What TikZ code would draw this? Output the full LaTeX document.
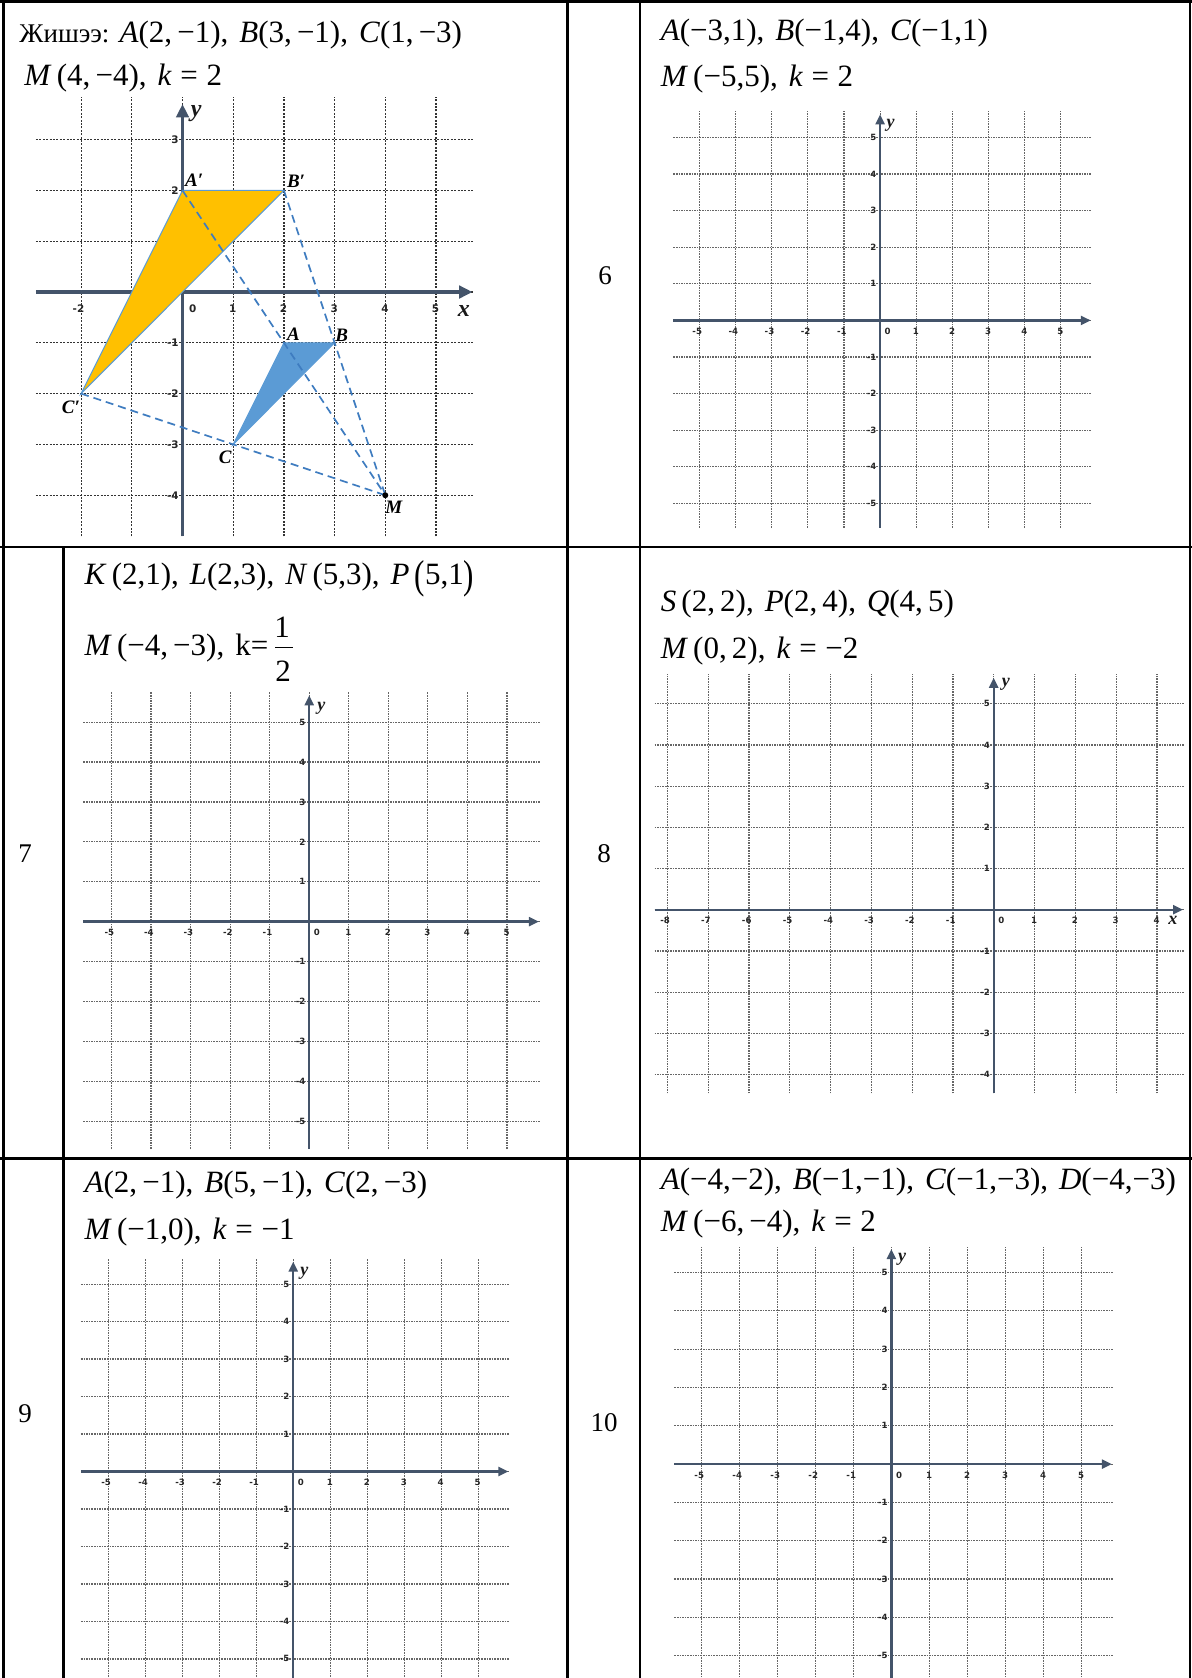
\documentclass[tikz,border=0pt]{standalone}
\usepackage{fontspec}
\usepackage{graphicx}
\setmainfont{Liberation Serif}
\newfontfamily\tickfont{DejaVu Sans}
\usetikzlibrary{arrows.meta}
\definecolor{axiscol}{HTML}{44546A}
\definecolor{goldfill}{HTML}{FFC000}
\definecolor{bluefill}{HTML}{5B9BD5}
\definecolor{dashblue}{HTML}{3E7CC0}
\newcommand{\bigpar}[1]{\raisebox{-0.13em}{\scalebox{1}[1.3]{#1}}}
\newcommand{\ptsep}{,\hspace{5.5pt}}

\tikzset{
  tabline/.style={line width=1.3pt, black},
  gridln/.style={line width=0.6pt, black!60, dash pattern=on 0.8pt off 0.5pt},
  exgridln/.style={line width=0.6pt, black!80, dash pattern=on 1pt off 0.7pt},
  axisln/.style={line width=1.15pt, axiscol, -{Triangle[length=5pt,width=4.5pt]}},
  exaxisln/.style={line width=1.7pt, axiscol, -{Triangle[length=6.7pt,width=6.2pt]}},
  ticklbl/.style={font=\tickfont\bfseries\fontsize{4.3}{4.5}\selectfont, text=black!85, inner sep=0pt},
  exticklbl/.style={font=\tickfont\bfseries\fontsize{5.2}{5.5}\selectfont, text=black!85, inner sep=0pt},
  axlbl/.style={font=\bfseries\itshape\fontsize{9}{9}\selectfont, text=black!90, inner sep=0pt},
  exaxlbl/.style={font=\bfseries\itshape\fontsize{12}{12}\selectfont, text=black!90, inner sep=0pt},
  mathtxt/.style={font=\fontsize{15.5}{16}\selectfont, anchor=base west, inner sep=0pt},
  numtxt/.style={font=\fontsize{13.5}{14}\selectfont, inner sep=0pt},
  ptlbl/.style={font=\bfseries\itshape\fontsize{9.5}{9.5}\selectfont, inner sep=0pt},
  dashln/.style={dashblue, line width=0.85pt, dash pattern=on 4pt off 2.5pt},
  fracbar/.style={line width=0.7pt, black},
}

% #1 xlo #2 xhi #3 ylo #4 yhi #5 ext left #6 ext right #7 ext bottom #8 ext top
\newcommand{\taskgrid}[8]{%
  \foreach \i in {#1,...,#2} {\draw[gridln] (\i,#7) -- (\i,#8);}
  \foreach \j in {#3,...,#4} {\draw[gridln] (#5,\j) -- (#6,\j);}
  \draw[axisln] (#5,0) -- (#6-0.02,0);
  \draw[axisln] (0,#7) -- (0,#8-0.08);
  \foreach \i in {#1,...,#2} {\ifnum\i=0\relax\else
    \node[ticklbl,anchor=east] at ([xshift=1.5pt,yshift=-5.5pt]\i,0) {\i};\fi}
  \node[ticklbl] at ([xshift=3.8pt,yshift=-5.5pt]0,0) {0};
  \foreach \j in {#3,...,#4} {\ifnum\j=0\relax\else
    \node[ticklbl,anchor=east] at ([xshift=-1.7pt]0,\j) {\j};\fi}
}

\begin{document}
\begin{tikzpicture}[x=0.5pt,y=-0.5pt]
\useasboundingbox (0,0) rectangle (1192,1678);
\clip (0,0) rectangle (1192,1678);
\fill[white] (0,0) rectangle (1192,1678);

% ---------------- Example (row 1, left) ----------------
\begin{scope}[shift={(182.5,292)}, x=25.35pt, y=25.4pt]
  \foreach \i in {-2,...,5} {\draw[exgridln] (\i,-4.81) -- (\i,3.83);}
  \foreach \j in {-4,...,3} {\draw[exgridln] (-2.89,\j) -- (5.75,\j);}
  \draw[exaxisln] (-2.89,0) -- (5.72,0);
  \draw[exaxisln] (0,-4.81) -- (0,3.70);
  \foreach \i in {-2,-1,1,2,3,4,5} {\node[exticklbl,anchor=east] at ([xshift=1.8pt,yshift=-8.2pt]\i,0) {\i};}
  \node[exticklbl] at ([xshift=5.1pt,yshift=-8.2pt]0,0) {0};
  \foreach \j in {-4,...,-1,1,2,3} {\node[exticklbl,anchor=east] at ([xshift=-1.7pt]0,\j) {\j};}
  \node[exaxlbl] (exx) at (5.55,-0.37) {x};
  \node[exaxlbl] (exy) at (0.27,3.51) {y};
  \coordinate (A) at (2,-1);
  \coordinate (B) at (3,-1);
  \coordinate (C) at (1,-3);
  \coordinate (Ap) at (0,2);
  \coordinate (Bp) at (2,2);
  \coordinate (Cp) at (-2,-2);
  \coordinate (M) at (4,-4);
  \filldraw[fill=goldfill, draw=bluefill, line width=0.5pt] (Ap) -- (Bp) -- (Cp) -- cycle;
  \filldraw[fill=bluefill, draw=bluefill, line width=0.5pt] (A) -- (B) -- (C) -- cycle;
  \draw[dashln] (Ap) -- (M);
  \draw[dashln] (Bp) -- (M);
  \draw[dashln] (Cp) -- (M);
  \fill[black] (M) circle (1.5pt);
  \node[ptlbl] (lAp) at ([shift={(0.23,0.20)}]Ap) {A′};
  \node[ptlbl] (lBp) at ([shift={(0.24,0.18)}]Bp) {B′};
  \node[ptlbl] (lCp) at ([shift={(-0.20,-0.26)}]Cp) {C′};
  \node[ptlbl] (lA) at ([shift={(0.19,0.16)}]A) {A};
  \node[ptlbl] (lB) at ([shift={(0.14,0.15)}]B) {B};
  \node[ptlbl] (lC) at ([shift={(-0.16,-0.25)}]C) {C};
  \node[ptlbl] (lM) at ([shift={(0.17,-0.23)}]M) {M};
\end{scope}

% ---------------- Task 6 ----------------
\begin{scope}[shift={(880.1,320.4)}, x=18.07pt, y=18.3pt]
  \taskgrid{-5}{5}{-5}{5}{-5.72}{5.85}{-5.67}{5.71}
  \node[axlbl] (y6) at (0.29,5.34) {y};
\end{scope}

% ---------------- Task 7 ----------------
\begin{scope}[shift={(309.2,921.6)}, x=19.77pt, y=19.95pt]
  \taskgrid{-5}{5}{-5}{5}{-5.71}{5.83}{-5.70}{5.75}
  \node[axlbl] (y7) at (0.31,5.35) {y};
\end{scope}

% ---------------- Task 8 ----------------
\begin{scope}[shift={(993.7,909.7)}, x=20.4pt, y=20.6pt]
  \taskgrid{-8}{4}{-4}{5}{-8.31}{4.66}{-4.46}{5.71}
  \node[axlbl] (x8) at (4.39,-0.26) {x};
  \node[axlbl] (y8) at (0.30,5.47) {y};
\end{scope}

% ---------------- Task 9 ----------------
\begin{scope}[shift={(293.2,1471.5)}, x=18.49pt, y=18.74pt]
  \taskgrid{-5}{5}{-5}{5}{-5.74}{5.84}{-5.9}{5.68}
  \node[axlbl] (y9) at (0.30,5.30) {y};
\end{scope}

% ---------------- Task 10 ----------------
\begin{scope}[shift={(891.4,1464.1)}, x=19.0pt, y=19.16pt]
  \taskgrid{-5}{5}{-5}{5}{-5.71}{5.82}{-5.9}{5.69}
  \node[axlbl] (y10) at (0.28,5.34) {y};
\end{scope}

% ---------------- Texts ----------------
\node[mathtxt] (ex1) at (19,42) {{\fontsize{13.5}{14}\selectfont Жишээ:}\hspace{5pt}\textit{A}(2,\,−1)\ptsep\textit{B}(3,\,−1)\ptsep\textit{C}(1,\,−3)};
\node[mathtxt] (ex2) at (24,85.7) {\textit{M}\,(4,\,−4)\ptsep\textit{k}\;=\;2};

\node[mathtxt] (t6a) at (660.4,40.4) {\textit{A}(−3,1)\ptsep\textit{B}(−1,4)\ptsep\textit{C}(−1,1)};
\node[mathtxt] (t6b) at (660.4,86.8) {\textit{M}\,(−5,5)\ptsep\textit{k}\;=\;2};

\node[mathtxt] (t7a) at (84.2,584.7) {\textit{K}\,(2,1)\ptsep\textit{L}(2,3)\ptsep\textit{N}\,(5,3)\ptsep\textit{P}\,\bigpar{(}5,1\bigpar{)}};
\node[mathtxt] (t7b) at (84.2,655) {\textit{M}\,(−4,\,−3)\ptsep k=};
\node[mathtxt, anchor=base] (t7n) at (282,637) {1};
\node[mathtxt, anchor=base] (t7d) at (283,681) {2};
\draw[fracbar] (275,647.5) -- (293,647.5);

\node[mathtxt] (t8a) at (660.4,611.2) {\textit{S}\,(2,\,2)\ptsep\textit{P}(2,\,4)\ptsep\textit{Q}(4,\,5)};
\node[mathtxt] (t8b) at (660.4,658.6) {\textit{M}\,(0,\,2)\ptsep\textit{k}\;=\;−2};

\node[mathtxt] (t9a) at (84.2,1192) {\textit{A}(2,\,−1)\ptsep\textit{B}(5,\,−1)\ptsep\textit{C}(2,\,−3)};
\node[mathtxt] (t9b) at (84.2,1239.2) {\textit{M}\,(−1,0)\ptsep\textit{k}\;=\;−1};

\node[mathtxt] (t10a) at (660.4,1189.7) {\textit{A}(−4,−2)\ptsep\textit{B}(−1,−1)\ptsep\textit{C}(−1,−3)\ptsep\textit{D}(−4,−3)};
\node[mathtxt] (t10b) at (660.4,1231.8) {\textit{M}\,(−6,\,−4)\ptsep\textit{k}\;=\;2};

% row numbers
\node[numtxt] (n6) at (605,276) {6};
\node[numtxt] (n7) at (25,854) {7};
\node[numtxt] (n8) at (604,854) {8};
\node[numtxt] (n9) at (25,1414) {9};
\node[numtxt] (n10) at (604,1423) {10};

% ---------------- Table lines ----------------
\draw[tabline] (0,1.3) -- (1192,1.3);
\draw[tabline] (3.3,0) -- (3.3,1678);
\draw[tabline] (1190,0) -- (1190,1678);
\draw[tabline] (0,547) -- (1192,547);
\draw[tabline] (0,1158.5) -- (1192,1158.5);
\draw[tabline] (567.5,0) -- (567.5,1678);
\draw[tabline] (640,0) -- (640,1678);
\draw[tabline] (63.5,547) -- (63.5,1678);
\end{tikzpicture}
\end{document}
